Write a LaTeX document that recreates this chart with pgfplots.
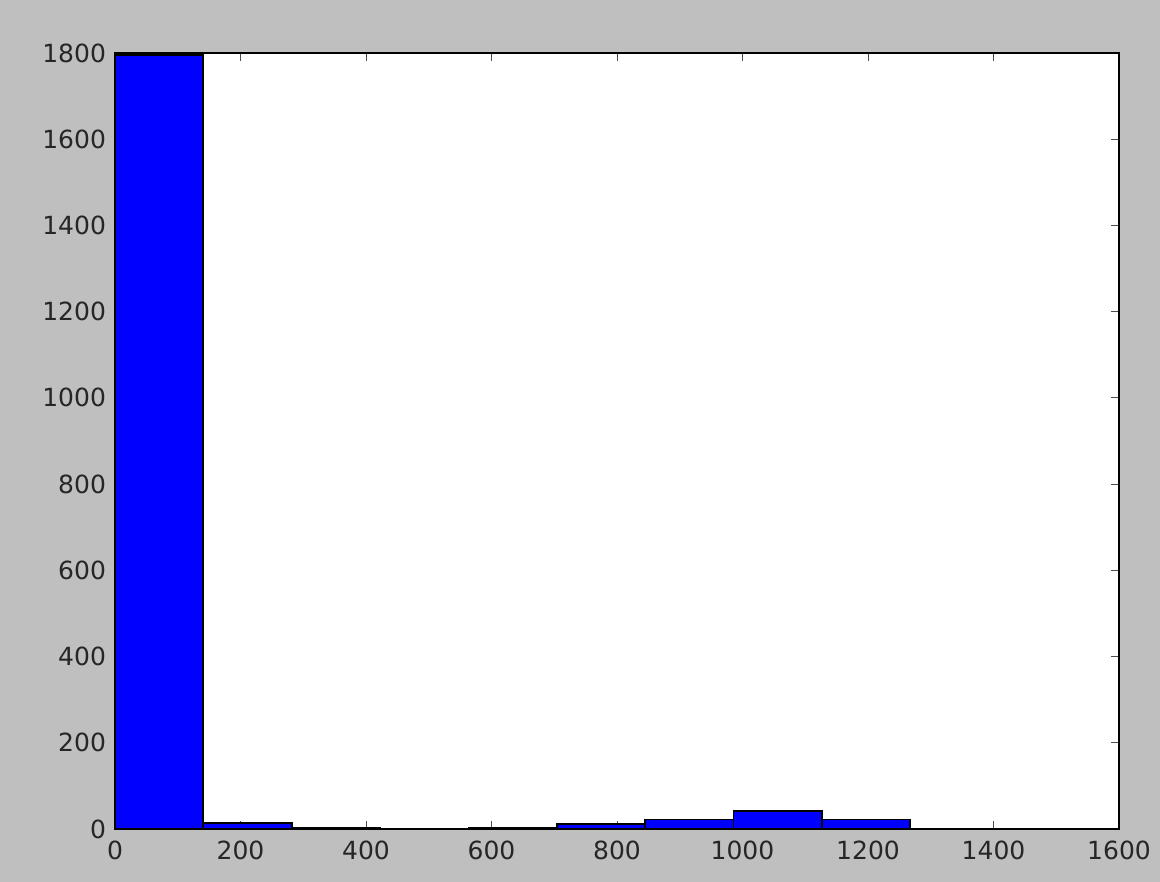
\documentclass[border=0pt]{standalone}
\usepackage{pgfplots}
\pgfplotsset{compat=1.18}
\usepackage{fontspec}
\setmainfont{DejaVu Sans}
\definecolor{bg}{HTML}{BFBFBF}
\begin{document}
\begin{tikzpicture}[x=1pt,y=1pt]
\fill[bg] (0,0) rectangle (580,441);
\begin{axis}[
  at={(57.5pt,26.5pt)}, anchor=south west,
  scale only axis, width=502pt, height=388pt,
  xmin=0, xmax=1600, ymin=0, ymax=1800,
  xtick={0,200,...,1600}, ytick={0,200,...,1800},
  axis background/.style={fill=white},
  axis line style={black, line width=0.8pt},
  tick style={black!70, line width=0.4pt},
  tick align=inside, major tick length=4pt,
  xtick pos=both, ytick pos=both,
  xticklabel pos=lower, yticklabel pos=left,
  scaled ticks=false,
  /pgf/number format/assume math mode=true,
  /pgf/number format/1000 sep={},
  tick label style={font=\fontsize{12.5}{14}\selectfont, text=black!85},
  xticklabel style={yshift=-2.5pt},
  yticklabel style={xshift=-1pt},
]
\addplot[ybar interval, fill=blue, draw=black, line width=0.9pt] coordinates {
(0,1796) (140.8,13) (281.6,2) (422.4,0) (563.2,2) (704,12) (844.8,22) (985.6,41) (1126.4,22) (1267.2,0)
};
\end{axis}
\end{tikzpicture}
\end{document}
